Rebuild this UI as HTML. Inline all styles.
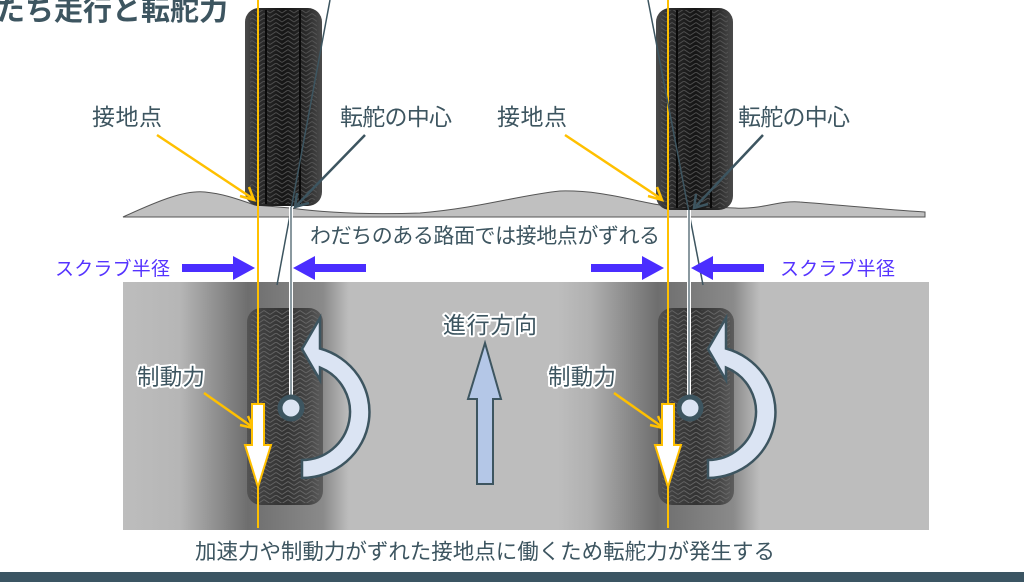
<!DOCTYPE html>
<html><head><meta charset="utf-8"><style>
html,body{margin:0;padding:0;background:#fff;width:1024px;height:582px;overflow:hidden}
svg{display:block}
text{font-family:"Liberation Sans","Noto Sans CJK JP",sans-serif}
</style></head><body>
<svg width="1024" height="582" viewBox="0 0 1024 582" xmlns="http://www.w3.org/2000/svg">
<defs>
<linearGradient id="road" gradientUnits="userSpaceOnUse" x1="123" y1="0" x2="929" y2="0">
<stop offset="0" stop-color="#bdbdbd"/>
<stop offset="0.07" stop-color="#b6b6b6"/>
<stop offset="0.155" stop-color="#6e6e6e"/>
<stop offset="0.248" stop-color="#8a8a8a"/>
<stop offset="0.28" stop-color="#bdbdbd"/>
<stop offset="0.54" stop-color="#bdbdbd"/>
<stop offset="0.58" stop-color="#b0b0b0"/>
<stop offset="0.663" stop-color="#6e6e6e"/>
<stop offset="0.757" stop-color="#8a8a8a"/>
<stop offset="0.79" stop-color="#bdbdbd"/>
<stop offset="1" stop-color="#bdbdbd"/>
</linearGradient>
<linearGradient id="tire" x1="0" y1="0" x2="1" y2="0">
<stop offset="0" stop-color="#4a4a4a"/>
<stop offset="0.2" stop-color="#2a2a2a"/>
<stop offset="0.5" stop-color="#151515"/>
<stop offset="0.8" stop-color="#2a2a2a"/>
<stop offset="1" stop-color="#4a4a4a"/>
</linearGradient>
<pattern id="tread" width="12" height="9" patternUnits="userSpaceOnUse">
<path d="M0 0 L6 4 M6 4 L12 0 M0 4.5 L6 8.5 M6 8.5 L12 4.5" stroke="#5a5a5a" stroke-width="1" fill="none"/>
</pattern>
</defs>

<!-- title -->
<text x="-4" y="20" font-size="29" font-weight="bold" fill="#3d5560">たち走行と転舵力</text>

<!-- ground -->
<path d="M123 217 C160 200,185 190,205 192 C225 194,240 200,255 205 L290 208 C320 212,360 215,420 213 C480 208,520 195,560 191 C600 190,630 200,660 205 L735 208 C760 210,780 200,800 202 C840 205,890 210,925 212 L925 217 Z" fill="#c0c0c0" stroke="#555" stroke-width="1"/>

<!-- top tires -->
<g>
<rect x="245" y="8" width="77" height="198" rx="14" fill="url(#tire)"/>
<rect x="250" y="10" width="67" height="194" rx="10" fill="url(#tread)" opacity="0.8"/>
<line x1="266" y1="10" x2="266" y2="204" stroke="#0a0a0a" stroke-width="2"/>
<line x1="300" y1="10" x2="300" y2="204" stroke="#0a0a0a" stroke-width="2"/>
</g>
<g>
<rect x="656" y="8" width="77" height="202" rx="14" fill="url(#tire)"/>
<rect x="661" y="10" width="67" height="198" rx="10" fill="url(#tread)" opacity="0.8"/>
<line x1="677" y1="10" x2="677" y2="208" stroke="#0a0a0a" stroke-width="2"/>
<line x1="711" y1="10" x2="711" y2="208" stroke="#0a0a0a" stroke-width="2"/>
</g>

<!-- road -->
<rect x="123" y="282" width="806" height="248" fill="url(#road)"/>
<g opacity="0.7">
<rect x="247" y="308" width="76" height="197" rx="14" fill="url(#tire)"/>
<rect x="251" y="310" width="68" height="193" rx="10" fill="url(#tread)"/>
</g>
<g opacity="0.7">
<rect x="658" y="308" width="76" height="197" rx="14" fill="url(#tire)"/>
<rect x="662" y="310" width="68" height="193" rx="10" fill="url(#tread)"/>
</g>

<!-- yellow vertical lines -->
<line x1="258" y1="0" x2="258" y2="528" stroke="#ffc000" stroke-width="2"/>
<line x1="668" y1="0" x2="668" y2="528" stroke="#ffc000" stroke-width="2"/>

<!-- steering axis lines -->
<line x1="330" y1="0" x2="277" y2="285" stroke="#3d5560" stroke-width="1.5"/>
<line x1="648" y1="0" x2="703" y2="285" stroke="#3d5560" stroke-width="1.5"/>
<line x1="291" y1="207" x2="291" y2="400" stroke="#fff" stroke-width="4"/>
<line x1="291" y1="207" x2="291" y2="400" stroke="#3d5560" stroke-width="1.2"/>
<line x1="689" y1="210" x2="689" y2="400" stroke="#fff" stroke-width="4"/>
<line x1="689" y1="210" x2="689" y2="400" stroke="#3d5560" stroke-width="1.2"/>

<!-- pointer arrows -->
<g stroke="#ffc000" stroke-width="2.5" fill="none">
<line x1="157" y1="135" x2="252" y2="198"/><path d="M240 196 L254 200 L249 187"/>
<line x1="565" y1="135" x2="660" y2="198"/><path d="M648 196 L662 200 L657 187"/>
<line x1="204" y1="393" x2="251" y2="426"/><path d="M240 425 L253 428 L248 416"/>
<line x1="614" y1="393" x2="661" y2="426"/><path d="M650 425 L663 428 L658 416"/>
</g>
<g stroke="#3d5560" stroke-width="2.5" fill="none">
<line x1="365" y1="135" x2="297" y2="205"/><path d="M297 193 L295 207 L309 203"/>
<line x1="763" y1="135" x2="696" y2="206"/><path d="M696 194 L694 208 L708 204"/>
</g>

<!-- scrub radius arrows -->
<g fill="#4a2dff">
<path d="M182 264 L233 264 L233 256 L255 268 L233 280 L233 272 L182 272 Z"/>
<path d="M366 264 L315 264 L315 256 L293 268 L315 280 L315 272 L366 272 Z"/>
<path d="M591 264 L642 264 L642 256 L664 268 L642 280 L642 272 L591 272 Z"/>
<path d="M764 264 L713 264 L713 256 L691 268 L713 280 L713 272 L764 272 Z"/>
</g>

<!-- yellow brake arrows -->
<g fill="#fff" stroke="#ffc000" stroke-width="2">
<path d="M252 404 L264 404 L264 445 L271 445 L258 487 L245 445 L252 445 Z"/>
<path d="M662 404 L674 404 L674 445 L681 445 L668 487 L655 445 L662 445 Z"/>
</g>

<!-- pivot circles -->
<circle cx="291" cy="408" r="11" fill="#dbe4f3" stroke="#3d5560" stroke-width="5"/>
<circle cx="690" cy="408" r="11" fill="#dbe4f3" stroke="#3d5560" stroke-width="5"/>

<!-- curved arrows -->
<path d="M302 478 A68 66 0 0 0 320 348.5 L320 318 L302 349 L320 380 L320 367.5 A48 48 0 0 1 302 460 Z" fill="#dbe4f3" stroke="#3d5560" stroke-width="2.5"/>
<path d="M708 478 A68 66 0 0 0 726 348.5 L726 318 L708 349 L726 380 L726 367.5 A48 48 0 0 1 708 460 Z" fill="#dbe4f3" stroke="#3d5560" stroke-width="2.5"/>

<!-- up arrow -->
<path d="M485 343 L501 399 L493 399 L493 484 L477 484 L477 399 L468 399 Z" fill="#b4c7e7" stroke="#3d5560" stroke-width="2"/>

<!-- labels -->
<g fill="#3d5560">
<text x="92" y="125" font-size="23" textLength="70">接地点</text>
<text x="340" y="125" font-size="23" textLength="112">転舵の中心</text>
<text x="497" y="125" font-size="23" textLength="70">接地点</text>
<text x="738" y="125" font-size="23" textLength="112">転舵の中心</text>
<text x="310" y="243" font-size="21" textLength="350">わだちのある路面では接地点がずれる</text>
<text x="195" y="559" font-size="21.5" textLength="580">加速力や制動力がずれた接地点に働くため転舵力が発生する</text>
</g>
<g fill="#3d5560" stroke="#fff" stroke-width="4" paint-order="stroke" stroke-linejoin="round">
<text x="443" y="333" font-size="23" textLength="94">進行方向</text>
<text x="137" y="385" font-size="22.5" textLength="68">制動力</text>
<text x="548" y="385" font-size="22.5" textLength="68">制動力</text>
</g>
<g font-size="19" fill="#5533ff">
<text x="55" y="275" textLength="115">スクラブ半径</text>
<text x="780" y="275" textLength="115">スクラブ半径</text>
</g>

<!-- bottom bar -->
<rect x="0" y="572" width="1024" height="10" fill="#3b5563"/>
</svg>
</body></html>
